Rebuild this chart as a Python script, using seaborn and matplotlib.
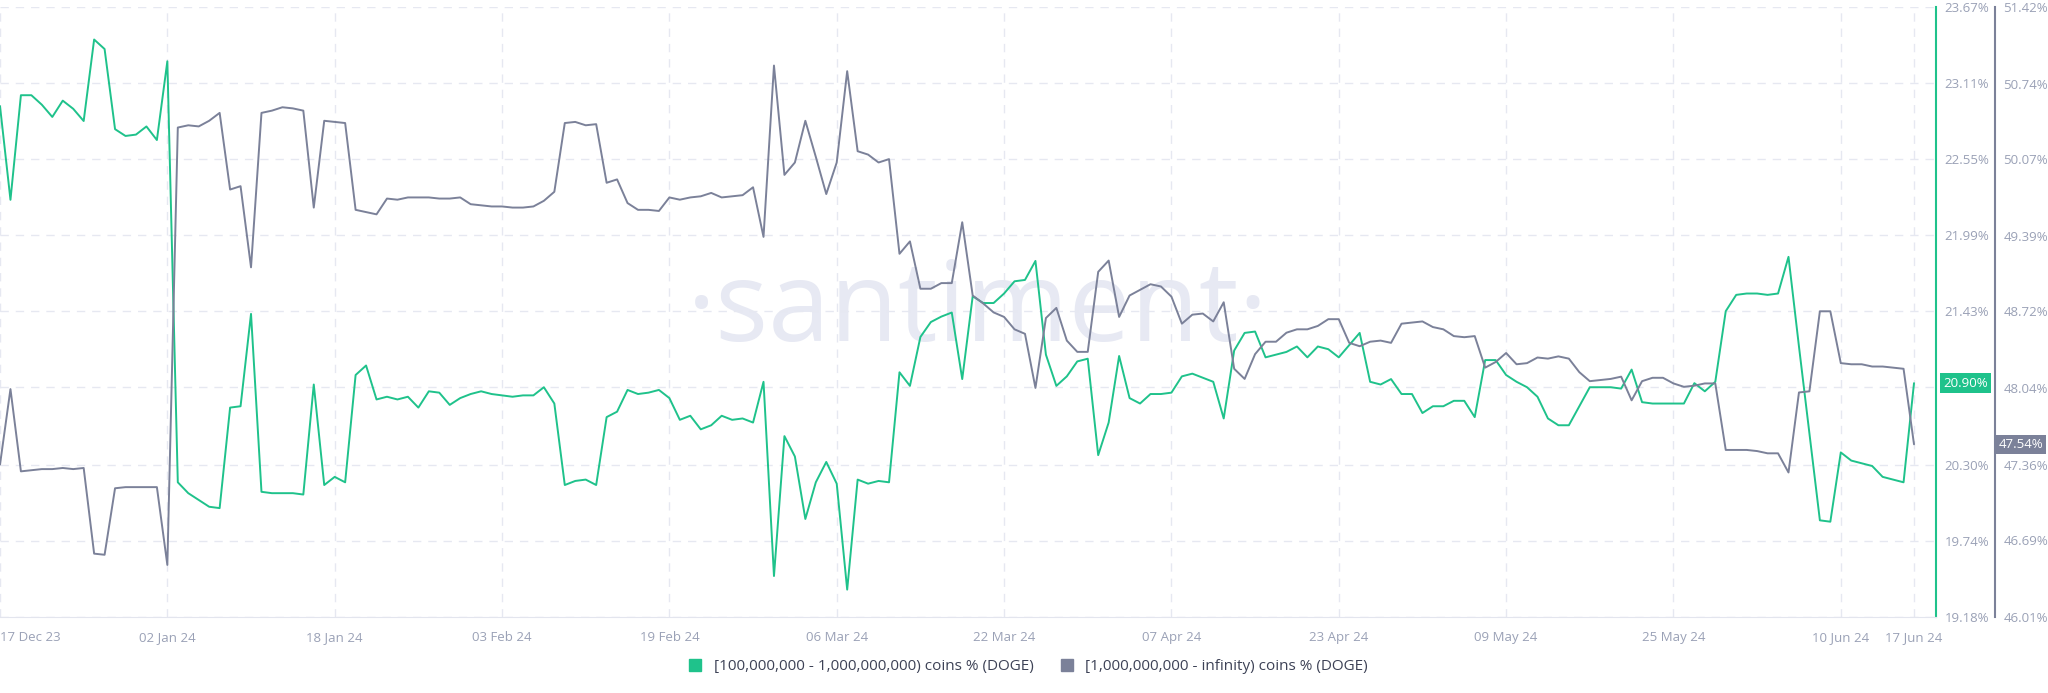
import numpy as np
import pandas as pd
import matplotlib
matplotlib.use("Agg")
import matplotlib.pyplot as plt
import seaborn as sns
from matplotlib.lines import Line2D

start_date = "2023-12-17"
green_vals = [22.94,22.25,23.02,23.02,22.95,22.86,22.98,22.92,22.83,23.43,
 23.36,22.77,22.72,22.73,22.79,22.69,23.27,20.17,20.09,20.04,
 19.99,19.98,20.72,20.73,21.41,20.10,20.09,20.09,20.09,20.08,
 20.89,20.15,20.21,20.17,20.96,21.03,20.78,20.80,20.78,20.80,
 20.72,20.84,20.83,20.74,20.79,20.82,20.84,20.82,20.81,20.80,
 20.81,20.81,20.87,20.75,20.15,20.18,20.19,20.15,20.65,20.69,
 20.85,20.82,20.83,20.85,20.79,20.63,20.66,20.56,20.59,20.66,
 20.63,20.64,20.61,20.91,19.48,20.51,20.36,19.90,20.17,20.32,
 20.16,19.38,20.19,20.16,20.18,20.17,20.98,20.88,21.24,21.35,
 21.39,21.42,20.93,21.54,21.49,21.49,21.56,21.65,21.66,21.80,
 21.11,20.88,20.95,21.06,21.08,20.37,20.61,21.10,20.79,20.75,
 20.82,20.82,20.83,20.95,20.97,20.94,20.91,20.64,21.14,21.27,
 21.28,21.09,21.11,21.13,21.17,21.09,21.17,21.15,21.09,21.18,
 21.27,20.91,20.89,20.93,20.82,20.82,20.68,20.73,20.73,20.77,
 20.77,20.65,21.07,21.07,20.96,20.91,20.87,20.80,20.64,20.59,
 20.59,20.73,20.87,20.87,20.87,20.86,21.00,20.76,20.75,20.75,
 20.75,20.75,20.90,20.84,20.91,21.43,21.55,21.56,21.56,21.55,
 21.56,21.83,21.17,20.53,19.89,19.88,20.39,20.33,20.31,20.29,
 20.21,20.19,20.17,20.90]
grey_vals = [47.36,48.03,47.30,47.31,47.32,47.32,47.33,47.32,47.33,46.57,
 46.56,47.15,47.16,47.16,47.16,47.16,46.47,50.35,50.37,50.36,
 50.41,50.48,49.80,49.83,49.11,50.48,50.50,50.53,50.52,50.50,
 49.64,50.41,50.40,50.39,49.62,49.60,49.58,49.72,49.71,49.73,
 49.73,49.73,49.72,49.72,49.73,49.67,49.66,49.65,49.65,49.64,
 49.64,49.65,49.70,49.78,50.39,50.40,50.37,50.38,49.86,49.89,
 49.68,49.62,49.62,49.61,49.73,49.71,49.73,49.74,49.77,49.73,
 49.74,49.75,49.82,49.38,50.90,49.93,50.04,50.41,50.09,49.76,
 50.04,50.85,50.14,50.11,50.04,50.07,49.23,49.34,48.92,48.92,
 48.97,48.97,49.51,48.86,48.79,48.71,48.67,48.56,48.52,48.04,
 48.66,48.75,48.46,48.36,48.36,49.07,49.17,48.67,48.86,48.91,
 48.96,48.94,48.85,48.61,48.69,48.70,48.63,48.80,48.21,48.12,
 48.34,48.45,48.45,48.53,48.56,48.56,48.59,48.65,48.65,48.44,
 48.41,48.45,48.46,48.44,48.61,48.62,48.63,48.58,48.56,48.50,
 48.49,48.50,48.22,48.27,48.35,48.25,48.26,48.31,48.30,48.32,
 48.30,48.18,48.10,48.11,48.12,48.14,47.93,48.10,48.13,48.13,
 48.08,48.05,48.06,48.08,48.08,47.49,47.49,47.49,47.48,47.46,
 47.46,47.29,48.00,48.01,48.72,48.72,48.26,48.25,48.25,48.23,
 48.23,48.22,48.21,47.54]
x_tick_dates = ["2023-12-17","2024-01-02","2024-01-18","2024-02-03","2024-02-19","2024-03-06",
                "2024-03-22","2024-04-07","2024-04-23","2024-05-09","2024-05-25","2024-06-10","2024-06-17"]
x_tick_labels = ["17 Dec 23","02 Jan 24","18 Jan 24","03 Feb 24","19 Feb 24","06 Mar 24",
                 "22 Mar 24","07 Apr 24","23 Apr 24","09 May 24","25 May 24","10 Jun 24","17 Jun 24"]
green_ticks = [19.18,19.74,20.30,20.87,21.43,21.99,22.55,23.11,23.67]
grey_ticks = [46.01,46.69,47.36,48.04,48.72,49.39,50.07,50.74,51.42]
green_name = "[100,000,000 - 1,000,000,000) coins % (DOGE)"
grey_name = "[1,000,000,000 - infinity) coins % (DOGE)"

GREEN = "#1fc28b"
GREY = "#7b8199"
TXT = "#9aa1b6"

dates = pd.date_range(start_date, periods=len(green_vals), freq="D")
df = pd.DataFrame({"date": dates, "green": green_vals, "grey": grey_vals})

sns.set_style("white")
plt.rcParams['font.family'] = ['Open Sans', 'DejaVu Sans']
fig = plt.figure(figsize=(20.48, 6.93), dpi=100)
ax = fig.add_axes([0.0, 0.110, 0.9453, 0.880])
ax2 = ax.twinx()

sns.lineplot(data=df, x="date", y="green", ax=ax, color=GREEN, lw=1.4)
sns.lineplot(data=df, x="date", y="grey", ax=ax2, color=GREY, lw=1.4)

x0 = pd.Timestamp(start_date)
ax.set_xlim(x0, x0 + pd.Timedelta(days=185.1))
ax.set_ylim(19.18, 23.67)
ax2.set_ylim(46.01, 51.42)
ax.set_xticks(pd.to_datetime(x_tick_dates).tolist())
ax.set_xticklabels(x_tick_labels)
xl = ax.get_xticklabels()
xl[0].set_ha("left")
ax.set_yticks(green_ticks)
ax.set_yticklabels([f"{v:.2f}%" for v in green_ticks])
ax2.set_yticks(grey_ticks)
ax2.set_yticklabels([f"{v:.2f}%" for v in grey_ticks])
ax.yaxis.tick_right()
ax.set_xlabel(""); ax.set_ylabel(""); ax2.set_ylabel(""); ax2.set_xlabel("")

for a in (ax, ax2):
    for s in ["top", "left"]:
        a.spines[s].set_visible(False)
    a.tick_params(axis="both", length=0, labelsize=9.5, labelcolor=TXT, pad=6)
ax.spines["bottom"].set_color("#e3e5ee")
ax2.spines["bottom"].set_visible(False)
ax.spines["right"].set_color(GREEN); ax.spines["right"].set_linewidth(1.5)
ax2.spines["right"].set_color(GREY); ax2.spines["right"].set_linewidth(1.5)
ax2.spines["right"].set_position(("outward", 42.5))
ax.tick_params(axis="x", pad=10)
ax.grid(True, color="#e6e8f1", ls=(0, (6, 5)), lw=1)
ax2.grid(False)
ax.set_axisbelow(True)

ax.text(0.505, 0.50, "·santiment·", transform=ax.transAxes, fontsize=80,
        color="#e7e9f3", ha="center", va="center", zorder=0)

ax.annotate(f"{green_vals[-1]:.2f}%", xy=(1.0, green_vals[-1]), xycoords=("axes fraction", "data"),
            xytext=(5, 0), textcoords="offset points", va="center", ha="left", fontsize=9.5,
            color="white", bbox=dict(boxstyle="square,pad=0.25", fc=GREEN, ec="none"))
ax2.annotate(f"{grey_vals[-1]:.2f}%", xy=(1.0, grey_vals[-1]), xycoords=("axes fraction", "data"),
             xytext=(45, 0), textcoords="offset points", va="center", ha="left", fontsize=9.5,
             color="white", bbox=dict(boxstyle="square,pad=0.25", fc=GREY, ec="none"))

handles = [Line2D([], [], marker="s", ls="", color=GREEN, markersize=9),
           Line2D([], [], marker="s", ls="", color=GREY, markersize=9)]
fig.legend(handles, [green_name, grey_name], loc="center", bbox_to_anchor=(0.50, 0.038),
           ncol=2, frameon=False, fontsize=11, labelcolor="#3d4256",
           handletextpad=0.2, columnspacing=1.2)

fig.savefig("out.png", dpi=100)
